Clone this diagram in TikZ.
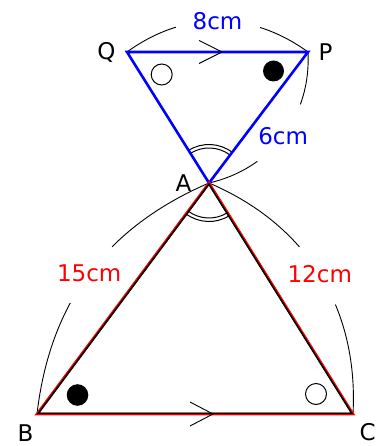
\documentclass[tikz,border=0pt]{standalone}
\usepackage{fontspec}
\setmainfont{DejaVu Sans}
\usetikzlibrary{angles,positioning,calc}

\begin{document}
\begin{tikzpicture}[x=1pt, y=-1pt, font=\fontsize{23}{25}\selectfont,
    lenlabel/.style={fill=white, inner sep=0pt}]
    \useasboundingbox (0,0) rectangle (382,446);

    % Define the points of the two triangles
    \coordinate (Q) at (127,52);
    \coordinate (P) at (308,52);
    \coordinate (A) at (209,183);
    \coordinate (B) at (37,414);
    \coordinate (C) at (353,414);
    \coordinate (G) at (barycentric cs:A=1,B=1,C=1);

    % Draw the length arcs, broken by their labels
    \draw[line width=0.9pt] (Q) to[bend left=36] node[midway, lenlabel, text=blue, minimum width=84pt, minimum height=24pt] {8cm} (P);
    \draw[line width=0.9pt] (P) to[bend left=40] node[midway, lenlabel, circle, text=blue, minimum size=72pt] {6cm} (A);
    \draw[line width=0.9pt] (A) to[bend right=30] node[midway, lenlabel, circle, text=red, minimum size=70pt] {15cm} (B);
    \draw[line width=0.9pt] (A) to[bend left=35] node[midway, lenlabel, circle, text=red, minimum size=68pt] {12cm} (C);

    % Draw the angles
    \draw pic[draw, line width=1pt, angle radius=35pt] {angle=P--A--Q};
    \draw pic[draw, line width=1pt, angle radius=38.5pt] {angle=P--A--Q};
    \draw pic[draw, line width=1pt, angle radius=35pt] {angle=B--A--C};
    \draw pic[draw, line width=1pt, angle radius=38.5pt] {angle=B--A--C};

    % Draw the triangles
    \draw[blue, line width=2.6pt] (Q) -- (P) -- (A) -- cycle;
    \draw[red, line width=2.6pt] (A) -- (B) -- (C) -- cycle;
    \draw[line width=1.6pt] ($(G)!0.992!(A)$) -- ($(G)!0.992!(B)$) -- ($(G)!0.992!(C)$) -- cycle;

    % Mark the equal angles
    \draw[line width=1pt] (161.7,74.5) circle[radius=10.5pt];
    \fill (273.5,71) circle[radius=10.5pt];
    \fill (77.5,395) circle[radius=10.8pt];
    \draw[line width=1pt] (316,394) circle[radius=10.5pt];

    % Mark the parallel sides
    \coordinate (mQP) at (222,52);
    \coordinate (mBC) at (213,414);
    \draw[line width=0.9pt] ([shift={(-23,-11.5)}]mQP) -- (mQP) -- ([shift={(-23,11.5)}]mQP);
    \draw[line width=0.9pt] ([shift={(-23,-12)}]mBC) -- (mBC) -- ([shift={(-23,12)}]mBC);

    % Place the labels
    \node[left=8pt] at (Q) {Q};
    \node[right=7pt] at (P) {P};
    \node[left=14pt] at (A) {A};
    \node[below left=7pt and 0pt of B] {B};
    \node[below right=6pt and 3pt of C] {C};

\end{tikzpicture}
\end{document}
